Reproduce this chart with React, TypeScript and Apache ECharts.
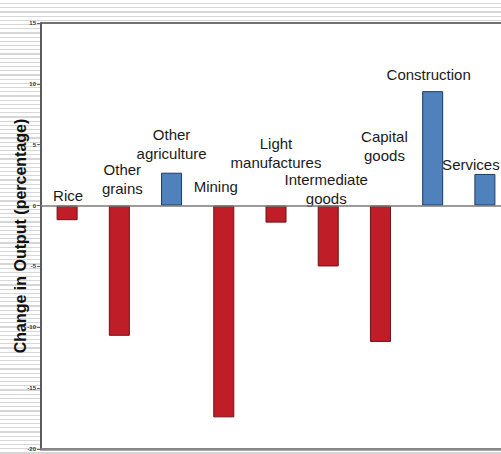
import React, { useEffect, useRef } from "react";
import * as echarts from "echarts";

// Sectors and their change in output (%)
const sectors = [
  "Rice",
  "Other grains",
  "Other agriculture",
  "Mining",
  "Light manufactures",
  "Intermediate goods",
  "Capital goods",
  "Construction",
  "Services",
];
const changeInOutput = [-1.2, -10.7, 2.7, -17.4, -1.4, -5.0, -11.2, 9.4, 2.6];

// Wrapped label text for each sector
const sectorLabels = [
  "Rice",
  "Other\ngrains",
  "Other\nagriculture",
  "Mining",
  "Light\nmanufactures",
  "Intermediate\ngoods",
  "Capital\ngoods",
  "Construction",
  "Services",
];

// Label placement: pixel offset from the bar's centre on the zero line
const labelDx = [1, 3, 0, -8, 0, -2, 4, -4, -14];
const labelDy = [-10, -27, -62, -19, -53, -17, -60, -131, -41];

const yTicks = { min: -20, max: 15, step: 5 };

const RED = "#bf1e28";
const RED_EDGE = "#6e1014";
const BLUE = "#4f81bd";
const BLUE_EDGE = "#1d3a63";

export default function App() {
  const ref = useRef<HTMLDivElement>(null);

  useEffect(() => {
    if (!ref.current) return;
    const chart = echarts.init(ref.current, undefined, { renderer: "svg" });

    chart.setOption({
      animation: false,
      grid: {
        left: 41,
        top: 23,
        right: -10,
        bottom: 5,
        outerBoundsMode: "none",
        containLabel: false,
        show: true,
        backgroundColor: "#ffffff",
        borderColor: "#444",
        borderWidth: 1.5,
      },
      xAxis: {
        type: "category",
        data: sectors,
        axisLine: { onZero: false, lineStyle: { color: "#8a8a8a", width: 2.5 } },
        axisTick: { show: false },
        axisLabel: { show: false },
        splitLine: { show: false },
      },
      yAxis: {
        type: "value",
        min: yTicks.min,
        max: yTicks.max,
        interval: yTicks.step,
        name: "Change in Output (percentage)",
        nameLocation: "middle",
        nameRotate: 90,
        nameGap: 13,
        nameMoveOverlap: false,
        nameTextStyle: {
          fontFamily: "Liberation Sans, Arial, sans-serif",
          fontWeight: "bold",
          fontSize: 16,
          color: "#111",
        },
        axisLine: { show: true, lineStyle: { color: "#555", width: 1.5 } },
        axisTick: { show: true, length: 4, lineStyle: { color: "#666" } },
        axisLabel: {
          fontFamily: "Liberation Sans, Arial, sans-serif",
          fontSize: 6,
          fontWeight: "bold",
          color: "#333",
          margin: 5,
        },
        splitLine: { show: false },
      },
      series: [
        {
          type: "bar",
          barWidth: 21,
          data: changeInOutput.map((v) => ({
            value: v,
            itemStyle: {
              color: v < 0 ? RED : BLUE,
              borderColor: v < 0 ? RED_EDGE : BLUE_EDGE,
              borderWidth: 1,
            },
          })),
          markLine: {
            silent: true,
            symbol: "none",
            label: { show: false },
            lineStyle: { color: "#7a7a7a", width: 1.5, type: "solid" },
            data: [{ yAxis: 0 }],
          },
        },
      ],
    });

    // Sector names placed around each bar, positioned through the axes
    const texts = sectors.map((_, i) => {
      const [x, y] = chart.convertToPixel({ gridIndex: 0 }, [i, 0]) as number[];
      return {
        type: "text",
        x: x + labelDx[i],
        y: y + labelDy[i],
        silent: true,
        style: {
          text: sectorLabels[i],
          fill: "#1a1a1a",
          font: "15px 'Liberation Sans', Arial, sans-serif",
          lineHeight: 19,
          align: "center",
          verticalAlign: "middle",
        },
      };
    });
    chart.setOption({ graphic: texts });

    return () => chart.dispose();
  }, []);

  return (
    <div
      style={{
        position: "fixed",
        left: 0,
        top: 0,
        width: 501,
        height: 454,
        background:
          "repeating-linear-gradient(to bottom, #ffffff 0px, #ffffff 3px, #d6d6d6 3px, #d6d6d6 4.2px)",
      }}
    >
      <div ref={ref} style={{ width: 501, height: 454 }} />
    </div>
  );
}
